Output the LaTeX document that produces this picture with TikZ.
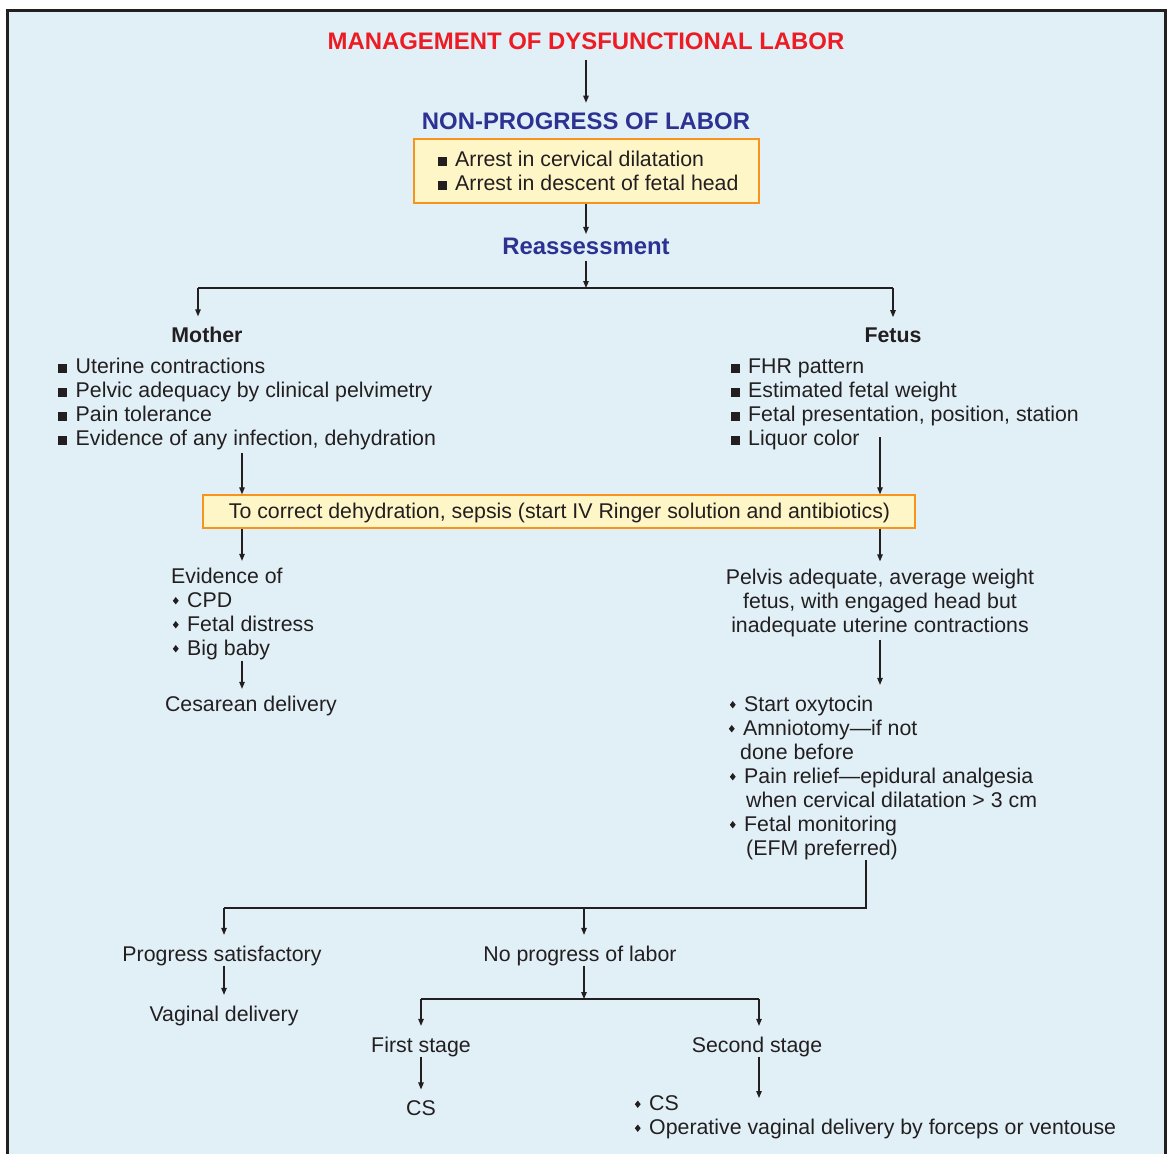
\documentclass[tikz,border=0pt]{standalone}
\usepackage{fontspec}
\usepackage{graphicx}
\setmainfont{Liberation Sans}
\usetikzlibrary{arrows.meta,calc}
\definecolor{bg}{HTML}{E1F0F7}
\definecolor{txt}{HTML}{231F20}
\definecolor{ttlred}{HTML}{ED1C24}
\definecolor{hdblue}{HTML}{2E3192}
\definecolor{boxfill}{HTML}{FFF6C8}
\definecolor{boxline}{HTML}{F7941D}
\newcommand\sqbul{\llap{\rule{9bp}{9bp}\hspace{8.5bp}}}
\newcommand\dmbul{\llap{\raisebox{2.6bp}{\scalebox{0.8}[1]{\rotatebox{45}{\rule{5.2bp}{5.2bp}}}}\hspace{8.5bp}}}
\begin{document}
\begin{tikzpicture}[x=1bp,y=-1bp,
  every node/.style={inner sep=0pt, text=txt, font=\fontsize{21.4}{24}\selectfont},
  ln/.style={anchor=base west},
  lc/.style={anchor=base},
  ttl/.style={anchor=base, text=ttlred, font=\bfseries\fontsize{24}{28}\selectfont},
  hd/.style={anchor=base, text=hdblue, font=\bfseries\fontsize{24}{28}\selectfont},
  hdb/.style={anchor=base, font=\bfseries\fontsize{21.4}{24}\selectfont},
  ybox/.style={draw=boxline, fill=boxfill, line width=1.3bp},
  con/.style={draw=txt, line width=1.1bp},
  arr/.style={draw=txt, line width=1.1bp, -{Triangle[length=7bp,width=5.5bp]}},
]
\useasboundingbox (0,0) rectangle (1169,1154);
\fill[white] (0,0) rectangle (1169,1154);
\fill[bg] (7,10) rectangle (1165,1154);
\draw[txt, line width=3bp] (7,1154) -- (7,10) -- (1165,10) -- (1165,1154);

% top
\node[ttl] (title) at (586,49.6) {MANAGEMENT OF DYSFUNCTIONAL LABOR};
\node[hd] (npl) at (586,129.6) {NON-PROGRESS OF LABOR};
\node[ybox, minimum width=345bp, minimum height=64bp] (abox) at (586.5,171) {};
\node[ln] (a1) at (455,166) {\sqbul Arrest in cervical dilatation};
\node[ln] (a2) at (455,190) {\sqbul Arrest in descent of fetal head};
\node[hd] (reas) at (586,254.6) {Reassessment};

\node[hdb] (mother) at (207,342) {Mother};
\node[hdb] (fetus) at (893,342) {Fetus};

\node[ln] (m1) at (75.5,373) {\sqbul Uterine contractions};
\node[ln] (m2) at (75.5,397) {\sqbul Pelvic adequacy by clinical pelvimetry};
\node[ln] (m3) at (75.5,421) {\sqbul Pain tolerance};
\node[ln] (m4) at (75.5,445) {\sqbul Evidence of any infection, dehydration};

\node[ln] (f1) at (748,373) {\sqbul FHR pattern};
\node[ln] (f2) at (748,397) {\sqbul Estimated fetal weight};
\node[ln] (f3) at (748,421) {\sqbul Fetal presentation, position, station};
\node[ln] (f4) at (748,445) {\sqbul Liquor color};

\node[ybox, minimum width=712bp, minimum height=33bp] (box2) at (559,511.5) {};
\node[lc] (box2t) at (559.5,518) {To correct dehydration, sepsis (start IV Ringer solution and antibiotics)};

% left branch
\node[ln] (ev) at (171,583) {Evidence of};
\node[ln] (ev1) at (187,607) {\dmbul CPD};
\node[ln] (ev2) at (187,631) {\dmbul Fetal distress};
\node[ln] (ev3) at (187,655) {\dmbul Big baby};
\node[lc] (ces) at (251,711) {Cesarean delivery};

% right branch
\node[lc] (p1) at (880,584) {Pelvis adequate, average weight};
\node[lc] (p2) at (880,608) {fetus, with engaged head but};
\node[lc] (p3) at (880,632) {inadequate uterine contractions};

\node[ln] (r1) at (744,711) {\dmbul Start oxytocin};
\node[ln] (r2) at (743,735) {\dmbul Amniotomy---if not};
\node[ln] (r3) at (740,759) {done before};
\node[ln] (r4) at (744,783) {\dmbul Pain relief---epidural analgesia};
\node[ln] (r5) at (746,807) {when cervical dilatation > 3 cm};
\node[ln] (r6) at (744,831) {\dmbul Fetal monitoring};
\node[ln] (r7) at (746,855) {(EFM preferred)};

% bottom
\node[lc] (prog) at (222,961) {Progress satisfactory};
\node[lc] (nop) at (580,961) {No progress of labor};
\node[lc] (vag) at (224,1021) {Vaginal delivery};
\node[lc] (first) at (421,1052) {First stage};
\node[lc] (second) at (757,1052) {Second stage};
\node[lc] (cs) at (421,1115) {CS};
\node[ln] (b1) at (649,1110.5) {\dmbul CS};
\node[ln] (b2) at (649,1134.5) {\dmbul Operative vaginal delivery by forceps or ventouse};

% coordinates
\coordinate (sp1) at (586,288);
\coordinate (sp1l) at (198,288);
\coordinate (sp1r) at (893,288);
\coordinate (ax1) at (242,453);
\coordinate (ax2) at (880,437);
\coordinate (c2) at (866,908);
\coordinate (sp2l) at (224,908);
\coordinate (sp2m) at (584,908);
\coordinate (sp3) at (584,999);
\coordinate (sp3l) at (421,999);
\coordinate (sp3r) at (759,999);
\coordinate (e2) at (759,1098);

% connectors
\draw[arr, shorten <=10bp, shorten >=10bp] (title.south) -- (title.south |- npl.north);
\draw[arr, shorten >=4bp] (abox.south -| reas) -- (reas.north);
\draw[arr, shorten <=6bp] (reas.south) -- (sp1);
\draw[con] (sp1l) -- (sp1r);
\draw[arr, shorten >=10bp] (sp1l) -- (sp1l |- mother.north);
\draw[arr, shorten >=10bp] (sp1r) -- (fetus.north);
\draw[arr] (ax1) -- (ax1 |- box2.north);
\draw[arr] (ax2) -- (ax2 |- box2.north);
\draw[arr, shorten >=6.5bp] (box2.south -| ax1) -- (ax1 |- ev.north);
\draw[arr, shorten >=7bp] (box2.south -| ax2) -- (ax2 |- p1.north);
\draw[arr, shorten <=1bp, shorten >=6.5bp] (ax1 |- ev3.south) -- (ax1 |- ces.north);
\draw[arr, shorten <=3bp, shorten >=10.5bp] (ax2 |- p3.south) -- (ax2 |- r1.north);
\draw[con] (c2 |- r7.south) -- (c2) -- (sp2l);
\draw[arr, shorten >=10.5bp] (sp2l) -- (sp2l |- prog.north);
\draw[arr, shorten >=10.5bp] (sp2m) -- (sp2m |- nop.north);
\draw[arr, shorten >=10.5bp] (sp2l |- prog.south) -- (sp2l |- vag.north);
\draw[arr] (sp2m |- nop.south) -- (sp3);
\draw[con] (sp3l) -- (sp3r);
\draw[arr, shorten >=10.5bp] (sp3l) -- (sp3l |- first.north);
\draw[arr, shorten >=10.5bp] (sp3r) -- (sp3r |- second.north);
\draw[arr, shorten >=10.5bp] (first.south) -- (cs.north);
\draw[arr] (sp3r |- second.south) -- (e2);
\end{tikzpicture}
\end{document}
